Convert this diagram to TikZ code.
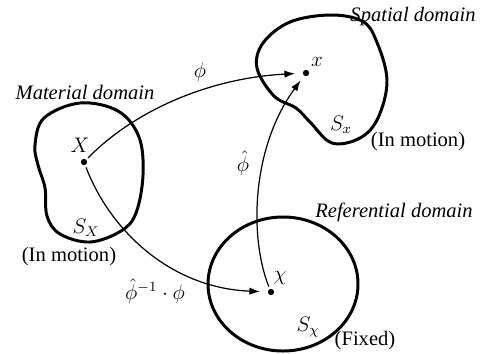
\documentclass[tikz,border=0pt]{standalone}
\usepackage{fontspec}
\setmainfont{Liberation Serif}
\usetikzlibrary{arrows.meta}
\tikzset{
  region/.style={draw=black, line width=1.7pt, line join=round},
  pt/.style={circle, fill=black, inner sep=0pt, minimum size=3.6pt, outer sep=1.5pt},
  arr/.style={-{Latex[length=6pt, width=4.2pt]}, draw=black, line width=0.7pt},
  lbl/.style={font=\fontsize{11.7}{14}\selectfont, inner sep=1pt},
  ttl/.style={font=\fontsize{11.7}{14}\selectfont\itshape, inner sep=1pt},
}

\begin{document}
\begin{tikzpicture}[x=0.02cm, y=-0.02cm]
  \useasboundingbox (0,0) rectangle (483,353);

  % the three domains
  \draw[region] plot[smooth cycle, tension=0.6] coordinates {
    (80,103) (118,111) (139,137) (143,175) (136,213) (121,231) (90,242)
    (60,234) (47,216) (45,188) (38,165) (35,145) (44,118)};
  \draw[region] plot[smooth cycle, tension=0.6] coordinates {
    (330,15) (362,21) (376,40) (387,80) (378,118) (360,138) (332,143)
    (310,122) (296,108) (274,96) (257,68) (263,43) (290,22)};
  \draw[region] (283,284) ellipse [x radius=75, y radius=67];

  % titles
  \node[ttl] (matT) at (85,92) {Material domain};
  \node[ttl] (spaT) at (413,17) {Spatial domain};
  \node[ttl] (refT) at (394,212) {Referential domain};

  % points
  \node[pt] (X) at (84,162) {};
  \node[pt] (x) at (306,73) {};
  \node[pt] (chi) at (271,292) {};
  \node[lbl] at (80,145) {$X$};
  \node[lbl] at (317,62) {$x$};
  \node[lbl] at (280,278) {$\chi$};

  % boundaries
  \node[lbl] at (86,228) {$S_X$};
  \node[lbl] (motA) at (69,257) {(In motion)};
  \node[lbl] at (341,125) {$S_x$};
  \node[lbl] (motB) at (418,142) {(In motion)};
  \node[lbl] at (308,327) {$S_\chi$};
  \node[lbl] (fix) at (365,341) {(Fixed)};

  % mappings
  \draw[arr, shorten >=3pt] (X) .. controls (135,110) and (210,78) .. (x);
  \node[lbl] at (200,72) {$\phi$};
  \draw[arr, shorten >=2pt] (chi) .. controls (250,240) and (250,150) .. (x);
  \node[lbl] at (243,163) {$\hat{\phi}$};
  \draw[arr, shorten >=3pt] (X) .. controls (110,230) and (170,288) .. (chi);
  \node[lbl] at (155,291) {$\hat{\phi}^{-1}\cdot\phi$};
\end{tikzpicture}
\end{document}
